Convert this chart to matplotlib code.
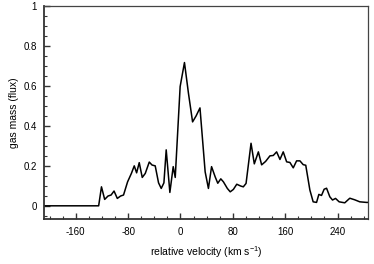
import numpy as np
import matplotlib
matplotlib.use("Agg")
import matplotlib.pyplot as plt
from matplotlib.ticker import MultipleLocator, FuncFormatter

# ------------------------------
# data
# ------------------------------
velocity = [-210, -125, -120.7, -115.8, -110.7, -106, -101.5, -96.5, -91.5, -87,
            -80.8, -75, -70.6, -67, -63, -58.4, -53.8, -47.7, -43.4, -38.6,
            -33.5, -29.4, -25.3, -21.8, -16.2, -11.1, -8, -0.5, 6.1, 12.2,
            18.5, 23.9, 29.8, 37.7, 42.7, 47.5, 53, 57, 61.6, 65.6,
            71.6, 76, 80.8, 86, 92, 96, 100.2, 107.8, 112.8, 119,
            124, 130, 136.7, 141.8, 146.9, 152, 157, 162.2, 167.2, 172.3,
            177.4, 182.5, 187.5, 191.4, 197.7, 202.7, 207.9, 211.4, 215.5, 219.5,
            223.2, 228.2, 232.3, 236.9, 242.4, 251, 258.7, 266.3, 273.9, 284.2,
            290]
flux = [0, 0, 0.095, 0.032, 0.049, 0.054, 0.074, 0.037, 0.049, 0.054,
        0.12, 0.162, 0.2, 0.165, 0.216, 0.142, 0.162, 0.219, 0.204, 0.2,
        0.115, 0.087, 0.115, 0.28, 0.067, 0.196, 0.142, 0.597, 0.717, 0.563,
        0.42, 0.45, 0.49, 0.17, 0.087, 0.196, 0.145, 0.113, 0.135, 0.12,
        0.087, 0.07, 0.082, 0.108, 0.099, 0.095, 0.112, 0.313, 0.21, 0.27,
        0.205, 0.222, 0.25, 0.252, 0.27, 0.232, 0.27, 0.22, 0.217, 0.19,
        0.225, 0.225, 0.206, 0.203, 0.079, 0.02, 0.017, 0.057, 0.052, 0.083,
        0.088, 0.045, 0.029, 0.037, 0.02, 0.015, 0.038, 0.03, 0.02, 0.017,
        0.017]

plt.rcParams['font.family'] = ['Liberation Sans', 'DejaVu Sans']
plt.rcParams['axes.unicode_minus'] = False
plt.rcParams['mathtext.fontset'] = 'custom'
plt.rcParams['mathtext.rm'] = 'Liberation Sans'

fig = plt.figure(figsize=(3.74, 2.64), dpi=100)
ax = fig.add_axes([44/374, 1 - 219/264, (368 - 44)/374, (219 - 6)/264])

ax.plot(velocity, flux, color="black", lw=1.1)

ax.set_xlim(-208.5, 286.5)
ax.set_ylim(-0.066, 1.0)

ax.xaxis.set_major_locator(MultipleLocator(80))
ax.xaxis.set_minor_locator(MultipleLocator(20))
ax.yaxis.set_major_locator(MultipleLocator(0.2))
ax.yaxis.set_minor_locator(MultipleLocator(0.05))
ax.xaxis.set_major_formatter(FuncFormatter(lambda v, p: f"{v:.0f}"))
ax.yaxis.set_major_formatter(FuncFormatter(lambda v, p: f"{v:.1f}".rstrip("0").rstrip(".") if abs(v) > 1e-9 else "0"))

ax.tick_params(which="both", direction="in", labelsize=7, color="#333333")
ax.tick_params(which="major", length=4, width=1)
ax.tick_params(which="minor", length=2, width=0.8)
ax.tick_params(axis="x", pad=6)
ax.tick_params(axis="y", pad=5)

for side in ["left", "bottom"]:
    ax.spines[side].set_linewidth(1.3)
    ax.spines[side].set_color("#333333")
for side in ["top", "right"]:
    ax.spines[side].set_linewidth(0.9)
    ax.spines[side].set_color("#444444")

ax.set_xlabel("relative velocity (km s$\\mathregular{^{-1}}$)", fontsize=7.5, labelpad=5)
ax.set_ylabel("gas mass (flux)", fontsize=7.5, labelpad=3)

fig.savefig("out.png", dpi=100)
